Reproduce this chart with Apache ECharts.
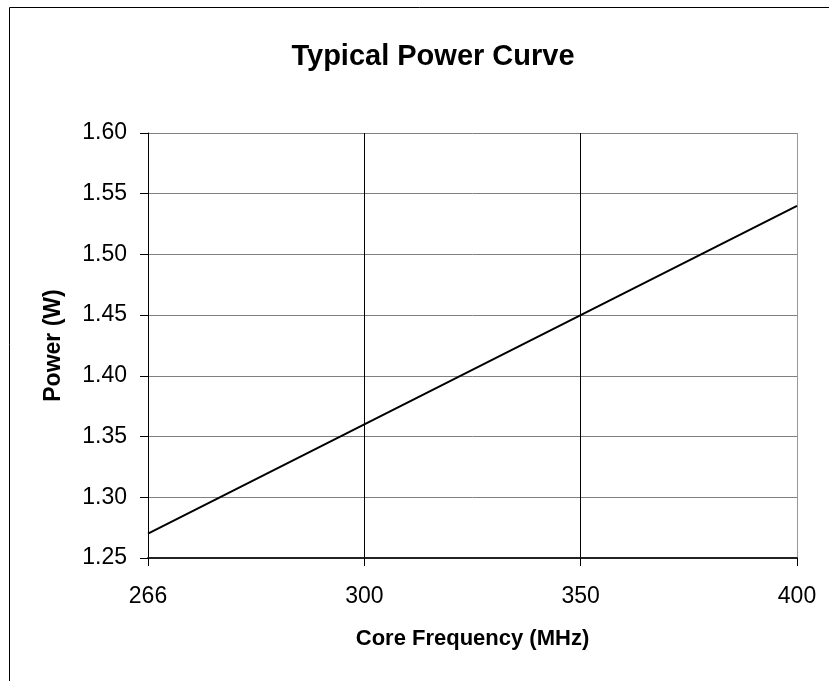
<!DOCTYPE html>
<html>
<head>
<meta charset="utf-8">
<script src="https://cdn.jsdelivr.net/npm/echarts@6/dist/echarts.min.js"></script>
<style>
	html, body { margin: 0; padding: 0; background: #fff; }
	#chart { width: 829px; height: 681px; }
</style>
</head>
<body>
<div id="chart"></div>
<script type="text/javascript">
	// data
	var frequencies = ['266', '300', '350', '400'];
	var power = [1.27, 1.36, 1.45, 1.54];

	var font = 'Arial, "Liberation Sans", sans-serif';

	var option = {
		backgroundColor: '#fff',
		animation: false,
		title: {
			text: 'Typical Power Curve',
			left: 428,
			top: 37,
			textAlign: 'center',
			textStyle: {
				fontFamily: font,
				fontSize: 29,
				fontWeight: 'bold',
				color: '#000'
			}
		},
		graphic: [{
			type: 'rect',
			shape: { x: 9.5, y: 7.5, width: 900, height: 900 },
			style: { fill: 'none', stroke: '#000', lineWidth: 1 },
			silent: true
		}],
		grid: {
			left: 148,
			right: 32,
			top: 133,
			bottom: 123
		},
		xAxis: {
			type: 'category',
			data: frequencies,
			boundaryGap: false,
			name: 'Core Frequency (MHz)',
			nameLocation: 'middle',
			nameGap: 70,
			nameTextStyle: {
				fontFamily: font,
				fontSize: 22,
				fontWeight: 'bold',
				color: '#000'
			},
			axisLine: { lineStyle: { color: '#222', width: 2 } },
			axisTick: { length: 8, lineStyle: { color: '#000' } },
			axisLabel: {
				fontFamily: font,
				fontSize: 23,
				color: '#000',
				margin: 27
			},
			splitLine: {
				show: true,
				lineStyle: { color: ['#000', '#000', '#000', '#999'], width: 1 }
			}
		},
		yAxis: {
			type: 'value',
			min: 1.25,
			max: 1.6,
			interval: 0.05,
			name: 'Power (W)',
			nameLocation: 'middle',
			nameGap: 83,
			nameTextStyle: {
				fontFamily: font,
				fontSize: 23,
				fontWeight: 'bold',
				color: '#000'
			},
			axisLine: { show: true, lineStyle: { color: '#000', width: 1 } },
			axisTick: { show: true, length: 8, lineStyle: { color: '#000' } },
			axisLabel: {
				fontFamily: font,
				fontSize: 23,
				color: '#000',
				margin: 21,
				formatter: function (v) { return v.toFixed(2); }
			},
			splitLine: { lineStyle: { color: '#808080', width: 1 } }
		},
		series: [{
			type: 'line',
			data: power,
			showSymbol: false,
			lineStyle: { color: '#000', width: 2 }
		}]
	};

	var myChart = echarts.init(document.getElementById('chart'));
	myChart.setOption(option);
</script>
</body>
</html>
